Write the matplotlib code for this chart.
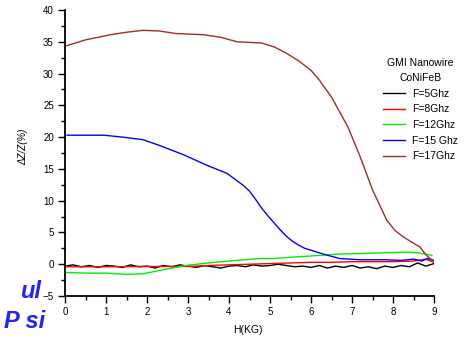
import matplotlib
matplotlib.use("Agg")
import matplotlib.pyplot as plt
from matplotlib.ticker import MultipleLocator

plt.rcParams['font.family'] = ['Liberation Sans', 'DejaVu Sans']

# F = 5 GHz (noisy baseline)
x_5 = [0.0, 0.2, 0.4, 0.6, 0.8, 1.0, 1.2, 1.4, 1.6, 1.8, 2.0, 2.2, 2.4, 2.6, 2.8,
       3.0, 3.2, 3.4, 3.6, 3.8, 4.0, 4.2, 4.4, 4.6, 4.8, 5.0, 5.2, 5.4, 5.6, 5.8,
       6.0, 6.2, 6.4, 6.6, 6.8, 7.0, 7.2, 7.4, 7.6, 7.8, 8.0, 8.2, 8.4, 8.6, 8.8, 9.0]
y_5 = [-0.3, -0.1, -0.4, -0.2, -0.5, -0.2, -0.3, -0.5, -0.1, -0.4, -0.3, -0.6, -0.2,
       -0.4, -0.1, -0.3, -0.5, -0.2, -0.4, -0.6, -0.3, -0.2, -0.4, -0.1, -0.3, -0.2,
       0.0, -0.2, -0.4, -0.3, -0.5, -0.2, -0.6, -0.3, -0.5, -0.2, -0.6, -0.4, -0.7,
       -0.3, -0.5, -0.2, -0.4, 0.2, -0.3, 0.1]

# F = 8 GHz
x_8 = [0.0, 1.0, 2.0, 3.0, 3.5, 4.0, 4.5, 5.0, 5.5, 6.0, 6.5, 7.0, 7.5, 8.0, 8.5, 8.8, 9.0]
y_8 = [-0.4, -0.4, -0.35, -0.35, -0.2, -0.1, 0.0, 0.1, 0.2, 0.3, 0.3, 0.4, 0.4, 0.4, 0.5, 0.8, 0.3]

# F = 12 GHz
x_12 = [0.0, 0.5, 1.0, 1.5, 1.9, 2.3, 2.6, 3.0, 3.5, 4.0, 4.75, 5.1, 5.5, 6.0, 6.7,
        7.3, 7.8, 8.3, 8.6, 8.95]
y_12 = [-1.3, -1.4, -1.4, -1.6, -1.5, -1.0, -0.6, -0.15, 0.2, 0.5, 0.9, 0.9, 1.1, 1.3,
        1.6, 1.7, 1.8, 1.9, 1.8, 1.4]

# F = 15 GHz
x_15 = [0.05, 0.5, 0.95, 1.4, 1.9, 2.3, 2.9, 3.45, 3.95, 4.35, 4.5, 4.65, 4.8, 4.95,
        5.1, 5.25, 5.4, 5.55, 5.7, 5.85, 6.0, 6.35, 6.7, 7.2, 7.8, 8.2, 8.5, 8.7,
        8.85, 9.0]
y_15 = [20.3, 20.3, 20.3, 20.0, 19.6, 18.7, 17.2, 15.6, 14.3, 12.4, 11.5, 10.2, 8.8,
        7.6, 6.5, 5.4, 4.4, 3.6, 3.0, 2.5, 2.2, 1.5, 0.9, 0.7, 0.7, 0.6, 0.8, 0.5,
        0.9, 0.6]

# F = 17 GHz
x_17 = [0.0, 0.5, 1.1, 1.5, 1.9, 2.3, 2.7, 3.4, 3.8, 4.2, 4.8, 5.1, 5.4, 5.7, 6.0,
        6.2, 6.5, 6.9, 7.2, 7.5, 7.85, 8.05, 8.25, 8.45, 8.66, 8.8, 8.95]
y_17 = [34.3, 35.3, 36.1, 36.5, 36.8, 36.7, 36.3, 36.1, 35.7, 35.0, 34.8, 34.2, 33.2,
        32.0, 30.5, 29.0, 26.3, 21.6, 16.9, 11.7, 6.9, 5.3, 4.3, 3.5, 2.7, 1.5, 0.6]

series = [
    (x_5, y_5, "black", "F=5Ghz"),
    (x_8, y_8, "#ff0000", "F=8Ghz"),
    (x_12, y_12, "#00ee00", "F=12Ghz"),
    (x_15, y_15, "#0000ff", "F=15 Ghz"),
    (x_17, y_17, "#a52a2a", "F=17Ghz"),
]

W, H = 475, 343
fig = plt.figure(figsize=(W / 100, H / 100), dpi=100)
ax = fig.add_axes([65 / W, 47 / H, 369 / W, 286 / H])

handles = []
for xs, ys, color, label in series:
    h, = ax.plot(xs, ys, color=color, lw=1.0, label=label)
    handles.append(h)

ax.set_xlim(0, 9)
ax.set_ylim(-5, 40)
ax.xaxis.set_major_locator(MultipleLocator(1))
ax.xaxis.set_minor_locator(MultipleLocator(0.5))
ax.yaxis.set_major_locator(MultipleLocator(5))
ax.yaxis.set_minor_locator(MultipleLocator(2.5))

for side in ("top", "right"):
    ax.spines[side].set_visible(False)
for side in ("left", "bottom"):
    ax.spines[side].set_linewidth(1.3)

ax.tick_params(which="major", direction="out", length=5, width=1.0,
               labelsize=7, pad=3)
ax.tick_params(which="minor", direction="out", length=3, width=1.0)

ax.set_xlabel("H(KG)", fontsize=7.5)
ax.xaxis.set_label_coords(0.496, -0.101)
ax.set_ylabel("ΔZ/Z(%)", fontsize=7, style="italic")
ax.yaxis.set_label_coords(-0.100, 0.52)

leg = ax.legend(handles=handles, title="GMI Nanowire\nCoNiFeB",
                loc="upper left", bbox_to_anchor=(383 / W, 1 - 58 / H),
                bbox_transform=fig.transFigure, frameon=False,
                fontsize=7.5, title_fontsize=7.5, borderpad=0, borderaxespad=0,
                handlelength=2.1, handletextpad=0.7, labelspacing=0.55)
leg.get_title().set_multialignment("center")
leg.get_title().set_linespacing(1.6)

fig.text(41 / W, 1 - 291 / H, "ul", color="#2222ff", fontsize=17,
         fontweight="bold", style="italic", ha="right", va="center")
fig.text(45 / W, 1 - 322 / H, "P si", color="#2222ff", fontsize=17,
         fontweight="bold", style="italic", ha="right", va="center")

fig.savefig("out.png", dpi=100)
